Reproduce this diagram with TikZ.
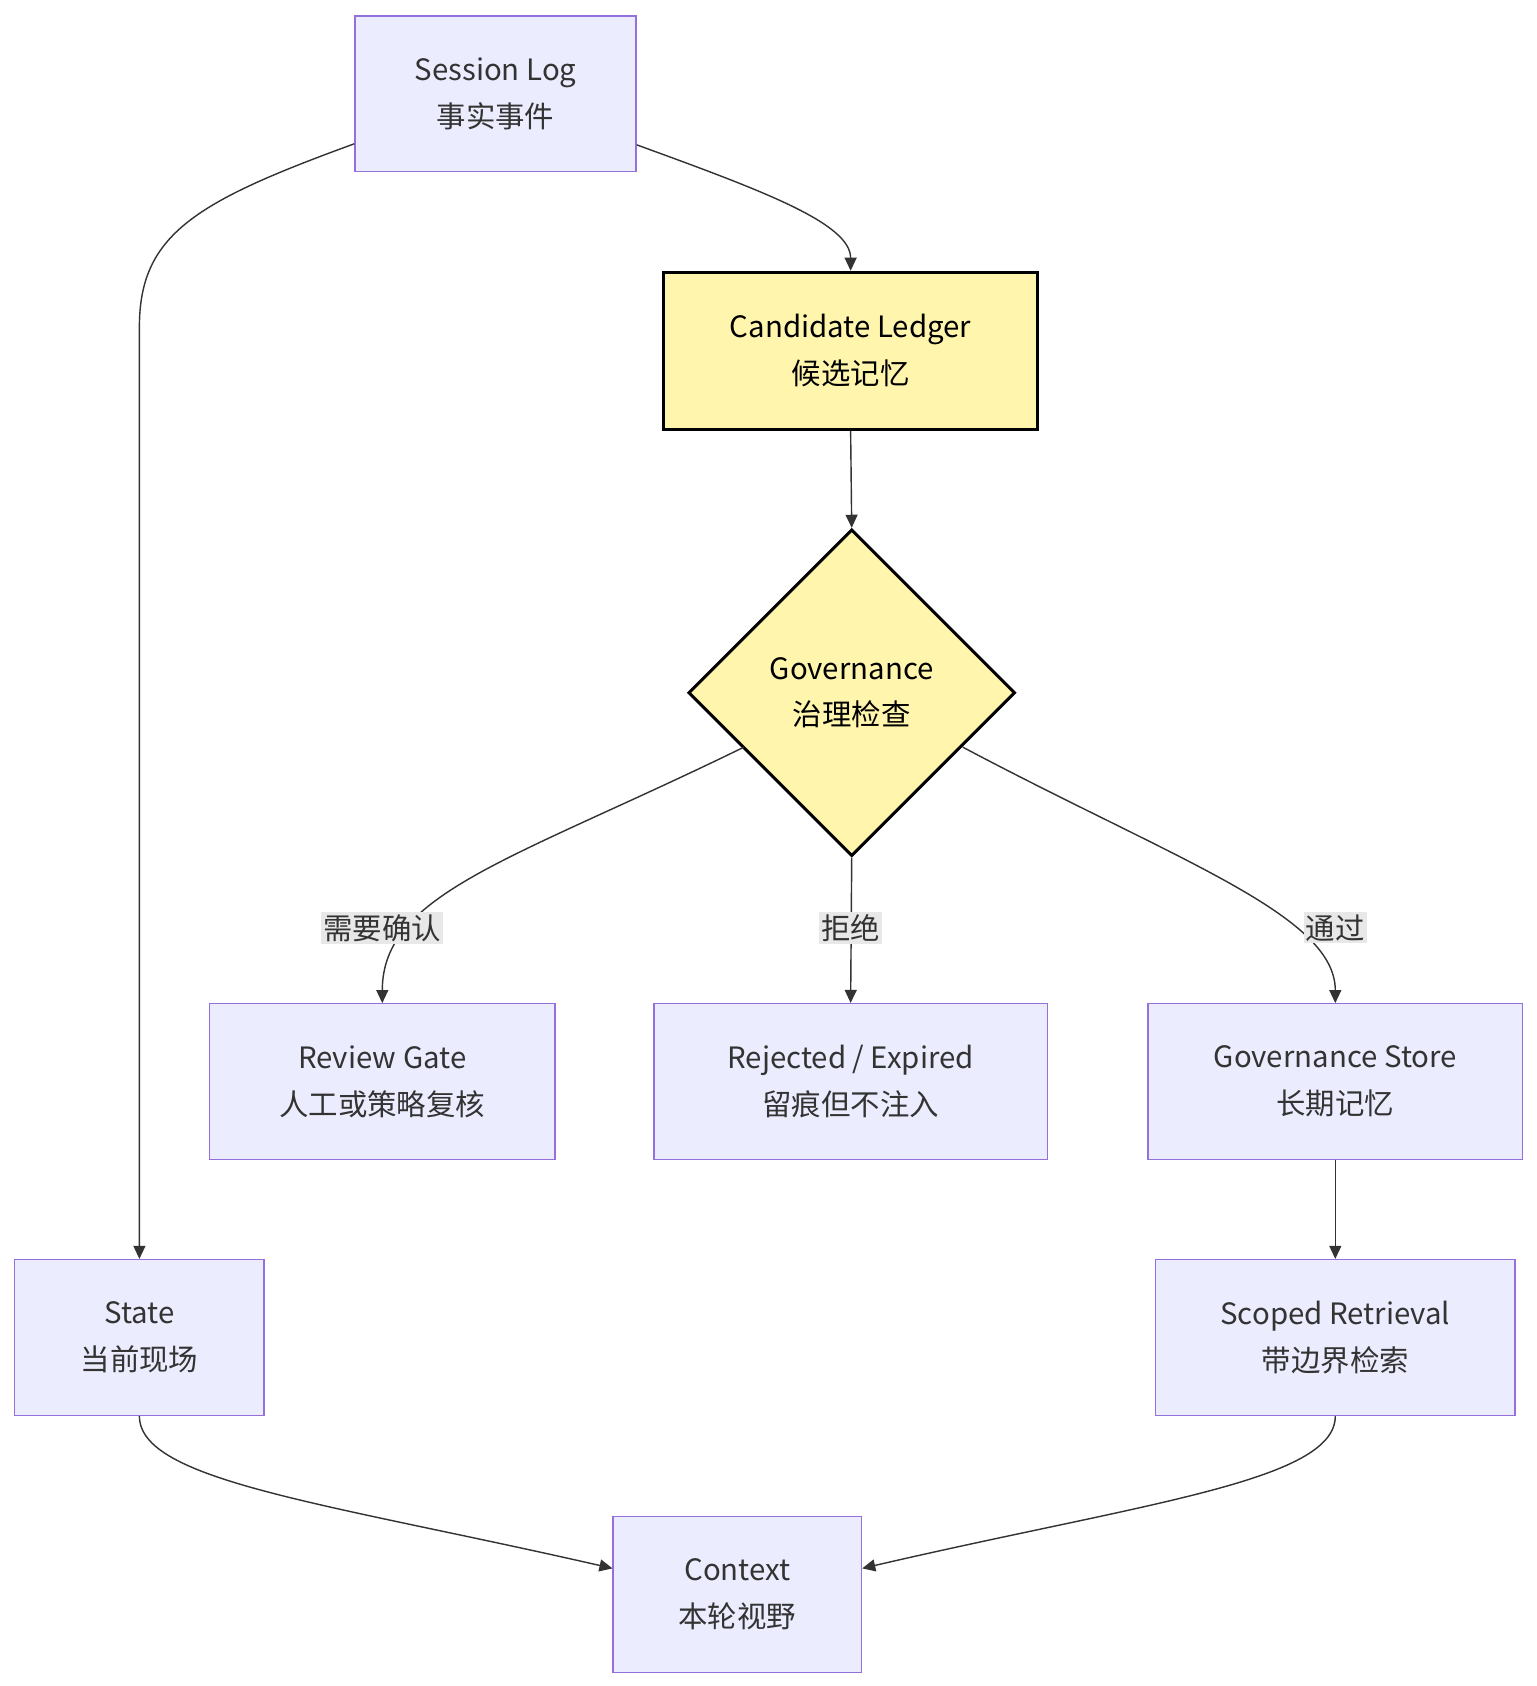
\documentclass[tikz,border=0pt]{standalone}
\usepackage{fontspec}
\setmainfont{Noto Sans CJK SC}
\usetikzlibrary{shapes.geometric,arrows.meta}
\definecolor{boxfill}{HTML}{ECECFF}
\definecolor{boxline}{HTML}{9370DB}
\definecolor{yfill}{HTML}{FFF5AD}
\definecolor{edge}{HTML}{333333}
\definecolor{lblbg}{HTML}{E8E8E8}
\begin{document}
\begin{tikzpicture}[x=1pt,y=-1pt,
  box/.style={draw=boxline,fill=boxfill,line width=1.3pt,minimum height=143pt,align=center,font=\fontsize{27}{43}\selectfont,text=black!80,inner sep=0pt},
  ybox/.style={draw=black,fill=yfill,line width=2.8pt,align=center,font=\fontsize{27}{43}\selectfont,inner sep=0pt},
  arr/.style={draw=edge,line width=1.3pt,-{Triangle[width=11pt,length=12pt]}},
  lbl/.style={fill=lblbg,font=\fontsize{27}{30}\selectfont,text=black!80,inner sep=2pt}]
\useasboundingbox (0,0) rectangle (1411,1548);
\node[box,minimum width=258pt] (log) at (455,86) {Session Log\\事实事件};
\node[ybox,minimum width=343pt,minimum height=144pt] (cand) at (781,322) {Candidate Ledger\\候选记忆};
\node[ybox,diamond,minimum width=300pt,minimum height=300pt] (gov) at (782,636) {Governance\\治理检查};
\node[box,minimum width=317pt] (rev) at (351,993) {Review Gate\\人工或策略复核};
\node[box,minimum width=361pt] (rej) at (781,993) {Rejected / Expired\\留痕但不注入};
\node[box,minimum width=344pt] (store) at (1226,993) {Governance Store\\长期记忆};
\node[box,minimum width=229pt] (state) at (128,1228) {State\\当前现场};
\node[box,minimum width=330pt] (scop) at (1226,1228) {Scoped Retrieval\\带边界检索};
\node[box,minimum width=228pt] (ctx) at (677,1464) {Context\\本轮视野};

\draw[arr] (log.west |- 0,132) .. controls (180,185) and (128,215) .. (128,300) -- (state.north);
\draw[arr] (log.east |- 0,133) .. controls (700,175) and (781,205) .. (cand.north);
\draw[arr] (cand.south) -- (gov.north);
\draw[arr] (683,686) .. controls (470,790) and (351,820) .. (351,921);
\draw[arr] (gov.south) -- (rej.north);
\draw[arr] (884,686) .. controls (1080,790) and (1226,840) .. (1226,921);
\node[lbl] (l1) at (351,852) {需要确认};
\node[lbl] (l2) at (781,852) {拒绝};
\node[lbl] (l3) at (1226,852) {通过};
\draw[arr] (store.south) -- (scop.north);
\draw[arr] (state.south) .. controls (128,1360) and (300,1380) .. (ctx.west |- 0,1440);
\draw[arr] (scop.south) .. controls (1226,1360) and (1050,1380) .. (ctx.east |- 0,1440);
\end{tikzpicture}
\end{document}
